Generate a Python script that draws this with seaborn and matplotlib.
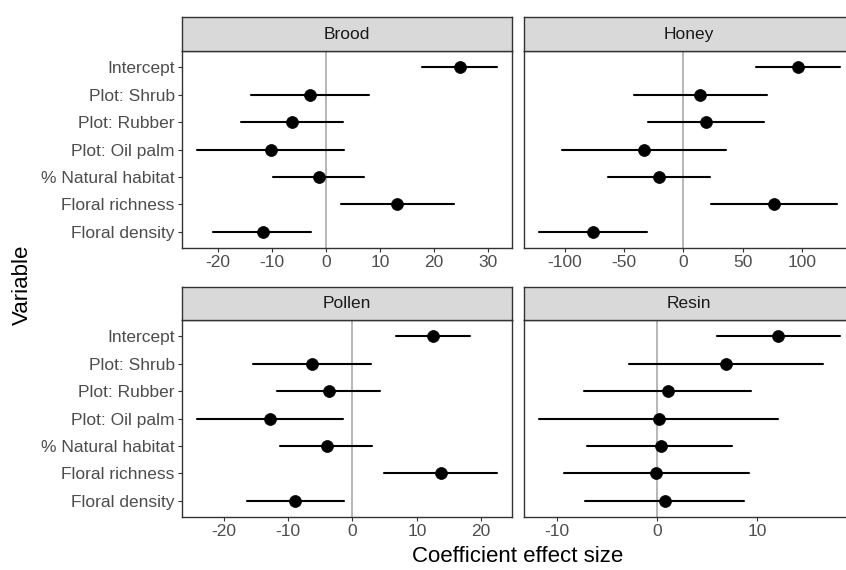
import pandas as pd
import seaborn as sns
from matplotlib import pyplot as plt
from matplotlib import ticker as tick

variables = [
    "Intercept",
    "Plot: Shrub",
    "Plot: Rubber",
    "Plot: Oil palm",
    "% Natural habitat",
    "Floral richness",
    "Floral density",
]
panels = ["Brood", "Honey", "Pollen", "Resin"]

brood_est = [24.8, -3.0, -6.2, -10.2, -1.3, 13.2, -11.7]
brood_lo = [17.8, -13.9, -15.8, -23.9, -9.7, 2.7, -20.8]
brood_hi = [31.7, 7.9, 3.2, 3.4, 7.0, 23.7, -2.8]

honey_est = [96.7, 14.4, 19.2, -33.2, -20.3, 76.7, -76.1]
honey_lo = [61.5, -41.4, -29.6, -102.3, -63.4, 23.1, -122.0]
honey_hi = [131.9, 70.2, 67.9, 36.3, 22.3, 129.7, -30.7]

pollen_est = [12.5, -6.3, -3.7, -12.8, -4.0, 13.7, -8.9]
pollen_lo = [6.8, -15.5, -11.8, -24.2, -11.3, 4.9, -16.4]
pollen_hi = [18.3, 2.9, 4.2, -1.4, 3.0, 22.5, -1.3]

resin_est = [12.1, 6.9, 1.1, 0.2, 0.4, -0.1, 0.8]
resin_lo = [6.0, -2.8, -7.3, -11.8, -7.0, -9.3, -7.2]
resin_hi = [18.2, 16.5, 9.4, 12.1, 7.5, 9.2, 8.7]

x_ticks = {"Brood": 10, "Honey": 50, "Pollen": 10, "Resin": 10}


def long_frame():
    series = {
        "Brood": (brood_lo, brood_est, brood_hi),
        "Honey": (honey_lo, honey_est, honey_hi),
        "Pollen": (pollen_lo, pollen_est, pollen_hi),
        "Resin": (resin_lo, resin_est, resin_hi),
    }
    rows = []
    for panel, (lo, est, hi) in series.items():
        for i, v in enumerate(variables):
            for kind, val in (("lo", lo[i]), ("est", est[i]), ("hi", hi[i])):
                rows.append({"panel": panel, "Variable": v, "kind": kind, "value": val})
    return pd.DataFrame(rows)


def main():
    sns.set_theme(style="white")
    plt.rcParams["font.family"] = ["Liberation Sans", "DejaVu Sans"]
    plt.rcParams["axes.unicode_minus"] = False

    df = long_frame()
    W, H = 846, 570
    fig = plt.figure(figsize=(W / 100, H / 100), dpi=100)

    # panel boxes in pixels
    cols = [(181.7, 512.3), (524.0, 854.6)]
    rows = [(50.7, 248.3), (320.0, 517.3)]
    strip_h = 33.5

    for k, panel in enumerate(panels):
        r, c = divmod(k, 2)
        x0, x1 = cols[c]
        y0, y1 = rows[r]
        ax = fig.add_axes([x0 / W, 1 - y1 / H, (x1 - x0) / W, (y1 - y0) / H])
        sub = df[df["panel"] == panel]

        ax.axvline(0, color="#A3A3A3", lw=1.1, zorder=0)
        sns.pointplot(
            data=sub,
            x="value",
            y="Variable",
            order=variables,
            estimator="median",
            errorbar=lambda v: (v.min(), v.max()),
            color="black",
            marker="o",
            linestyle="none",
            markersize=8.6,
            markeredgewidth=0.5,
            err_kws={"linewidth": 1.5},
            ax=ax,
        )
        lo, hi = sub["value"].min(), sub["value"].max()
        pad = (hi - lo) * 0.05
        ax.set_xlim(lo - pad, hi + pad)
        ax.set_ylim(6.6, -0.6)
        ax.xaxis.set_major_locator(tick.MultipleLocator(x_ticks[panel]))
        ax.set_xlabel("")
        ax.set_ylabel("")
        ax.tick_params(
            axis="both", bottom=True, left=True, length=3.0, width=0.8,
            color="#333333", labelcolor="#4D4D4D", labelsize=12.5, pad=2.0,
        )
        if c == 1:
            ax.tick_params(axis="y", left=False, labelleft=False)
        for s in ax.spines.values():
            s.set_color("#333333")
            s.set_linewidth(1.0)

        # facet strip
        sax = fig.add_axes([x0 / W, 1 - y0 / H, (x1 - x0) / W, strip_h / H])
        sax.set_facecolor("#D9D9D9")
        sax.set_xticks([])
        sax.set_yticks([])
        for s in sax.spines.values():
            s.set_color("#333333")
            s.set_linewidth(1.0)
        sax.text(0.5, 0.48, panel, ha="center", va="center", fontsize=12.5,
                 color="#1A1A1A", transform=sax.transAxes)

    fig.text(518 / W, 1 - 556 / H, "Coefficient effect size", ha="center", va="center",
             fontsize=16, color="black")
    fig.text(22.5 / W, 1 - 285 / H, "Variable", ha="center", va="center",
             rotation=90, fontsize=16, color="black")

    fig.savefig("out.png", dpi=100)


if __name__ == "__main__":
    main()
